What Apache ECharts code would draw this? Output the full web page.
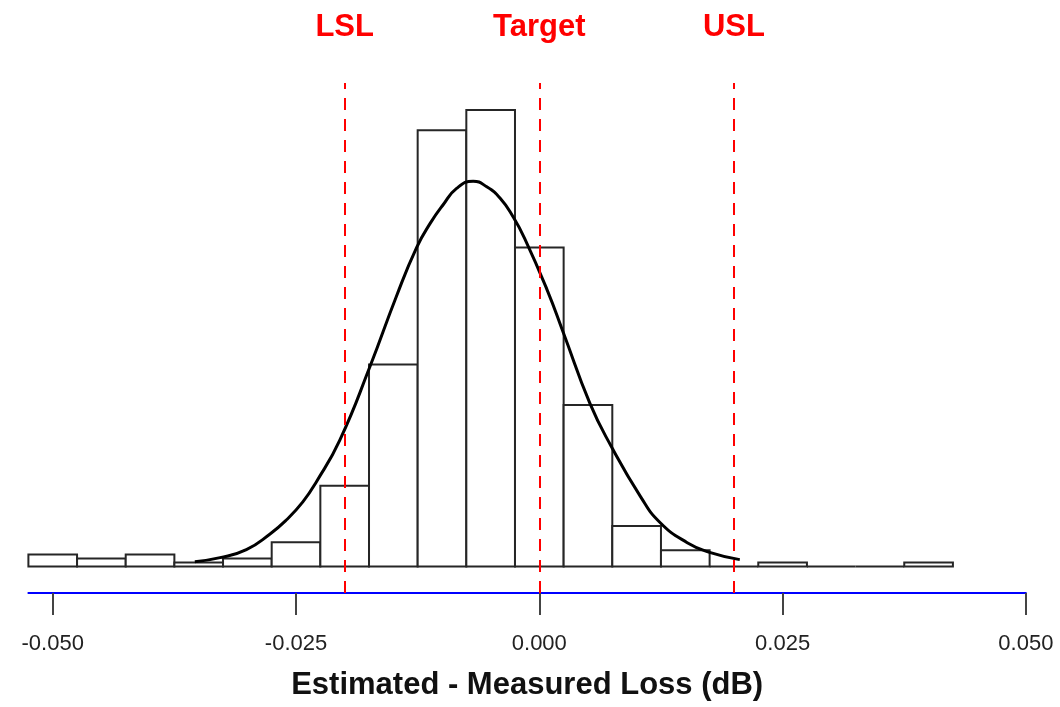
<!DOCTYPE html>
<html>
<head>
<meta charset="utf-8">
<script src="https://cdn.jsdelivr.net/npm/echarts@6/dist/echarts.min.js"></script>
<style>
  html, body { margin: 0; padding: 0; background: #fff; }
  #hist_chart { width: 1060px; height: 707px; }
</style>
</head>
<body>
<div id="hist_chart"></div>
<script>
// bin edges of the histogram (dB)
const binEdges = [-0.0525, -0.0475, -0.0425, -0.0375, -0.0325, -0.0275, -0.0225, -0.0175, -0.0125, -0.0075,
  -0.0025, 0.0025, 0.0075, 0.0125, 0.0175, 0.0225, 0.0275, 0.0325, 0.0375, 0.0425];
// counts per bin
const binCounts = [3, 2, 3, 1, 2, 6, 20, 50, 108, 113, 79, 40, 10, 4, 0, 1, 0, 0, 1];

// fitted normal curve (x, expected count)
const curveX = [-0.0354, -0.0328, -0.0301, -0.0277, -0.0260, -0.0243, -0.0229, -0.0205, -0.0174,
  -0.0147, -0.0126, -0.0112, -0.0099, -0.0085, -0.0068, -0.0054, -0.0040, -0.0027,
  -0.0015, 0.0008, 0.0025, 0.0052, 0.0074, 0.0104, 0.0124, 0.0152, 0.0175, 0.0206];
const curveY = [1.2, 2.2, 4.2, 8.0, 11.5, 16.0, 21.0, 31.3, 49.5,
  66.8, 79.0, 85.0, 89.5, 93.6, 95.4, 94.0, 91.1, 86.6,
  81.2, 68.5, 57.7, 40.4, 29.7, 17.3, 10.9, 5.9, 3.5, 1.7];

// spec limits
const specNames = ['LSL', 'Target', 'USL'];
const specValues = [-0.02, 0, 0.02];

// tick labels
const xTicks = [-0.05, -0.025, 0, 0.025, 0.05];

const myChart = echarts.init(document.getElementById('hist_chart'));

let barData = binCounts.map((c, i) => [binEdges[i], binEdges[i + 1], c]);
let curveData = curveX.map((x, i) => [x, curveY[i]]);

let option = {
  animation: false,
  grid: { left: 28.4, right: 34.1, top: 83, bottom: 114 },
  xAxis: {
    type: 'value',
    min: -0.0525,
    max: 0.05,
    axisLine: { onZero: false, lineStyle: { color: '#0000ff', width: 2 } },
    axisTick: {
      show: true,
      customValues: xTicks,
      length: 22,
      lineStyle: { color: '#444', width: 2 }
    },
    axisLabel: {
      customValues: xTicks,
      formatter: v => v.toFixed(3),
      fontSize: 22,
      color: '#222',
      margin: 40,
      fontFamily: 'Liberation Sans, Arial, sans-serif'
    },
    splitLine: { show: false },
    name: 'Estimated - Measured Loss (dB)',
    nameLocation: 'middle',
    nameGap: 77,
    nameTextStyle: {
      fontSize: 31,
      fontWeight: 'bold',
      color: '#111',
      fontFamily: 'Liberation Sans, Arial, sans-serif',
      verticalAlign: 'top'
    }
  },
  yAxis: {
    type: 'value',
    min: -6.56,
    max: 119.7,
    show: false
  },
  series: [
    {
      // spec limit lines, drawn under the bars
      type: 'line',
      data: [],
      z: 1,
      silent: true,
      markLine: {
        symbol: ['none', 'none'],
        silent: true,
        lineStyle: { color: '#ff0000', type: [12, 9], width: 2 },
        label: {
          show: true,
          position: 'end',
          formatter: '{b}',
          color: '#ff0000',
          fontSize: 31,
          fontWeight: 'bold',
          fontFamily: 'Liberation Sans, Arial, sans-serif',
          distance: 40
        },
        data: specValues.map((v, i) => ({ name: specNames[i], xAxis: v }))
      }
    },
    {
      type: 'custom',
      z: 2,
      silent: true,
      renderItem: function (params, api) {
        let p0 = api.coord([api.value(0), 0]);
        let p1 = api.coord([api.value(1), api.value(2)]);
        return {
          type: 'rect',
          shape: { x: p0[0], y: p1[1], width: p1[0] - p0[0], height: p0[1] - p1[1] },
          style: { fill: '#fff', stroke: '#262626', lineWidth: 2 }
        };
      },
      encode: { x: [0, 1], y: 2 },
      data: barData
    },
    {
      type: 'line',
      z: 3,
      silent: true,
      smooth: 0.5,
      showSymbol: false,
      lineStyle: { color: '#000', width: 3 },
      data: curveData
    }
  ]
};
myChart.setOption(option);
window.onresize = () => { myChart.resize() };
</script>
</body>
</html>
